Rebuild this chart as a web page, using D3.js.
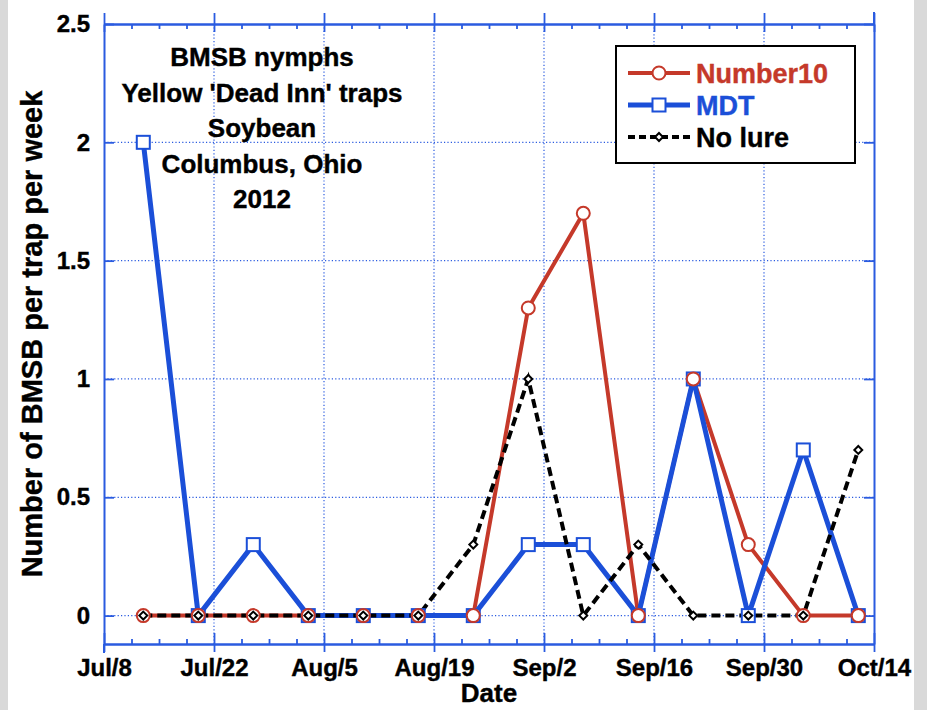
<!DOCTYPE html>
<html>
<head>
<meta charset="utf-8">
<script src="https://cdn.jsdelivr.net/npm/d3@7"></script>
<style>
  html, body { margin: 0; padding: 0; background: #ffffff; }
  svg { display: block; font-family: "Liberation Sans", Arial, Helvetica, sans-serif; font-weight: bold; }
</style>
</head>
<body>
<svg id="chart" width="927" height="710"></svg>
<script>
// ---------- data ----------
const dates = ["2012-07-13","2012-07-20","2012-07-27","2012-08-03","2012-08-10","2012-08-17","2012-08-24",
               "2012-08-31","2012-09-07","2012-09-14","2012-09-21","2012-09-28","2012-10-05","2012-10-12"];
const number10 = [0, 0, 0, 0, 0, 0, 0, 1.3, 1.7, 0, 1.0, 0.3, 0, 0];
const mdt      = [2.0, 0, 0.3, 0, 0, 0, 0, 0.3, 0.3, 0, 1.0, 0, 0.7, 0];
const noLure   = [0, 0, 0, 0, 0, 0, 0.3, 1.0, 0, 0.3, 0, 0, 0, 0.7];
const xTickDates = ["2012-07-08","2012-07-22","2012-08-05","2012-08-19","2012-09-02","2012-09-16","2012-09-30","2012-10-14"];
const xTickLabels = ["Jul/8","Jul/22","Aug/5","Aug/19","Sep/2","Sep/16","Sep/30","Oct/14"];
const yTicks = [0, 0.5, 1, 1.5, 2, 2.5];
const yTickLabels = ["0","0.5","1","1.5","2","2.5"];
const titleLines = ["BMSB nymphs", "Yellow 'Dead Inn' traps", "Soybean", "Columbus, Ohio", "2012"];
const seriesNames = ["Number10", "MDT", "No lure"];

// ---------- setup ----------
const parse = d3.timeParse("%Y-%m-%d");
const svg = d3.select("#chart");
const W = 927, H = 710;
const L = 104, R = 874, T = 24, B = 644;
const AXIS = "#2a5be0", RED = "#c5392a", BLUE = "#1b4fd8", BLACK = "#000000";
const FONT = "'Liberation Sans', Arial, Helvetica, sans-serif";

svg.append("rect").attr("x", 0).attr("y", 0).attr("width", W).attr("height", H).attr("fill", "#ffffff");
svg.append("rect").attr("x", 0).attr("y", 0).attr("width", 8).attr("height", H).attr("fill", "#d9d9d9");
svg.append("rect").attr("x", 914).attr("y", 0).attr("width", W - 914).attr("height", H).attr("fill", "#d9d9d9");

const x = d3.scaleTime().domain([parse("2012-07-08"), parse("2012-10-14")]).range([L, R]);
const y = d3.scaleLinear().domain([-0.12, 2.5]).range([B, T]);

// grid (dotted)
const grid = svg.append("g");
xTickDates.slice(1, -1).forEach(d => {
  grid.append("line").attr("x1", x(parse(d))).attr("x2", x(parse(d))).attr("y1", T).attr("y2", B)
    .attr("stroke", AXIS).attr("stroke-width", 1.2).attr("stroke-dasharray", "1.2,2.2");
});
yTicks.slice(0, -1).forEach(v => {
  grid.append("line").attr("x1", L).attr("x2", R).attr("y1", y(v)).attr("y2", y(v))
    .attr("stroke", AXIS).attr("stroke-width", 1.2).attr("stroke-dasharray", "1.2,2.2");
});

const xMajor = xTickDates.map(parse);
const xMinor = d3.range(0, 29).map(i => d3.timeHour.offset(parse("2012-07-08"), i * 84)).filter(d => !xMajor.some(m => +m === +d));

function styleAxis(g) {
  g.select(".domain").attr("stroke", AXIS).attr("stroke-width", 2);
  g.selectAll(".tick line").attr("stroke", AXIS).attr("stroke-width", 1.8);
}
function styleLabels(g, size) {
  g.selectAll(".tick text").attr("fill", "#000").attr("font-size", size).attr("font-weight", "bold")
    .attr("font-family", FONT).attr("stroke", "#000").attr("stroke-width", 0.4);
}
svg.append("g").attr("transform", `translate(0,${B})`)
  .call(d3.axisBottom(x).tickValues(xMinor).tickSize(-5).tickSizeOuter(0).tickFormat(""))
  .call(styleAxis);
const bMaj = svg.append("g").attr("transform", `translate(0,${B})`)
  .call(d3.axisBottom(x).tickValues(xMajor).tickSize(8).tickSizeOuter(0).tickFormat((d, i) => xTickLabels[i]).tickPadding(7))
  .call(styleAxis);
bMaj.selectAll(".tick line").attr("y1", -11);
styleLabels(bMaj, 24);
svg.append("g").attr("transform", `translate(0,${T})`)
  .call(d3.axisTop(x).tickValues(xMinor).tickSize(-5).tickSizeOuter(0).tickFormat(""))
  .call(styleAxis);
const tMaj = svg.append("g").attr("transform", `translate(0,${T})`)
  .call(d3.axisTop(x).tickValues(xMajor).tickSize(11).tickSizeOuter(0).tickFormat(""))
  .call(styleAxis);
tMaj.selectAll(".tick line").attr("y1", 8);
const lAx = svg.append("g").attr("transform", `translate(${L},0)`)
  .call(d3.axisLeft(y).tickValues(yTicks).tickSize(-10).tickSizeOuter(0).tickPadding(14).tickFormat((d, i) => yTickLabels[i]))
  .call(styleAxis);
styleLabels(lAx, 24);
svg.append("g").attr("transform", `translate(${R},0)`)
  .call(d3.axisRight(y).tickValues(yTicks).tickSize(-10).tickSizeOuter(0).tickFormat(""))
  .call(styleAxis);
svg.append("line").attr("x1", L).attr("x2", L).attr("y1", B).attr("y2", B + 9).attr("stroke", AXIS).attr("stroke-width", 2);
svg.append("line").attr("x1", R).attr("x2", R).attr("y1", T - 12).attr("y2", T).attr("stroke", AXIS).attr("stroke-width", 2);

// ---------- series ----------
const pts = arr => arr.map((v, i) => ({ d: parse(dates[i]), v }));
const line = d3.line().x(p => x(p.d)).y(p => y(p.v));

svg.append("path").datum(pts(number10)).attr("d", line).attr("fill", "none")
  .attr("stroke", RED).attr("stroke-width", 4).attr("stroke-linejoin", "round");
svg.append("path").datum(pts(mdt)).attr("d", line).attr("fill", "none")
  .attr("stroke", BLUE).attr("stroke-width", 5).attr("stroke-linejoin", "round");
svg.append("path").datum(pts(noLure)).attr("d", line).attr("fill", "none")
  .attr("stroke", BLACK).attr("stroke-width", 4).attr("stroke-dasharray", "9,5");

svg.append("g").selectAll("rect").data(pts(mdt)).join("rect")
  .attr("x", p => x(p.d) - 6.5).attr("y", p => y(p.v) - 6.5).attr("width", 13).attr("height", 13)
  .attr("fill", "#fff").attr("stroke", BLUE).attr("stroke-width", 2);
svg.append("g").selectAll("circle").data(pts(number10)).join("circle")
  .attr("cx", p => x(p.d)).attr("cy", p => y(p.v)).attr("r", 6.5)
  .attr("fill", "#fff").attr("stroke", RED).attr("stroke-width", 2);
const diamond = d3.symbol().type(d3.symbolDiamond2).size(40);
svg.append("g").selectAll("path").data(pts(noLure)).join("path")
  .attr("transform", p => `translate(${x(p.d)},${y(p.v)})`).attr("d", diamond)
  .attr("fill", "#fff").attr("stroke", BLACK).attr("stroke-width", 2);

// ---------- title block ----------
const tt = svg.append("text").attr("font-size", 26).attr("text-anchor", "middle").attr("fill", "#000")
  .attr("stroke", "#000").attr("stroke-width", 0.4);
titleLines.forEach((s, i) => {
  tt.append("tspan").attr("x", 262).attr("y", 66 + i * 35.5).text(s);
});

// ---------- legend ----------
const lg = svg.append("g");
lg.append("rect").attr("x", 616).attr("y", 46).attr("width", 239).attr("height", 117)
  .attr("fill", "#fff").attr("stroke", "#000").attr("stroke-width", 2);
const legColors = [RED, BLUE, BLACK];
seriesNames.forEach((name, i) => {
  const cy = 73 + i * 32;
  const l = lg.append("line").attr("x1", 628).attr("x2", 690).attr("y1", cy).attr("y2", cy)
    .attr("stroke", legColors[i]).attr("stroke-width", i === 1 ? 5 : 4);
  if (i === 2) l.attr("stroke-dasharray", "7,4");
  if (i === 0) lg.append("circle").attr("cx", 659).attr("cy", cy).attr("r", 6.5).attr("fill", "#fff").attr("stroke", RED).attr("stroke-width", 2);
  if (i === 1) lg.append("rect").attr("x", 652.5).attr("y", cy - 6.5).attr("width", 13).attr("height", 13).attr("fill", "#fff").attr("stroke", BLUE).attr("stroke-width", 2);
  if (i === 2) lg.append("path").attr("transform", `translate(659,${cy})`).attr("d", diamond).attr("fill", "#fff").attr("stroke", BLACK).attr("stroke-width", 2);
  lg.append("text").attr("x", 696).attr("y", cy + 10).attr("font-size", 27).attr("fill", legColors[i])
    .attr("stroke", legColors[i]).attr("stroke-width", 0.4).text(name);
});

// ---------- axis titles ----------
svg.append("text").attr("x", 489).attr("y", 702).attr("text-anchor", "middle").attr("font-size", 26)
  .attr("fill", "#000").attr("stroke", "#000").attr("stroke-width", 0.4).text("Date");
svg.append("text").attr("transform", `translate(42,${(T + B) / 2}) rotate(-90)`).attr("text-anchor", "middle")
  .attr("font-size", 29).attr("fill", "#000").attr("stroke", "#000").attr("stroke-width", 0.4)
  .text("Number of BMSB per trap per week");
</script>
</body>
</html>
